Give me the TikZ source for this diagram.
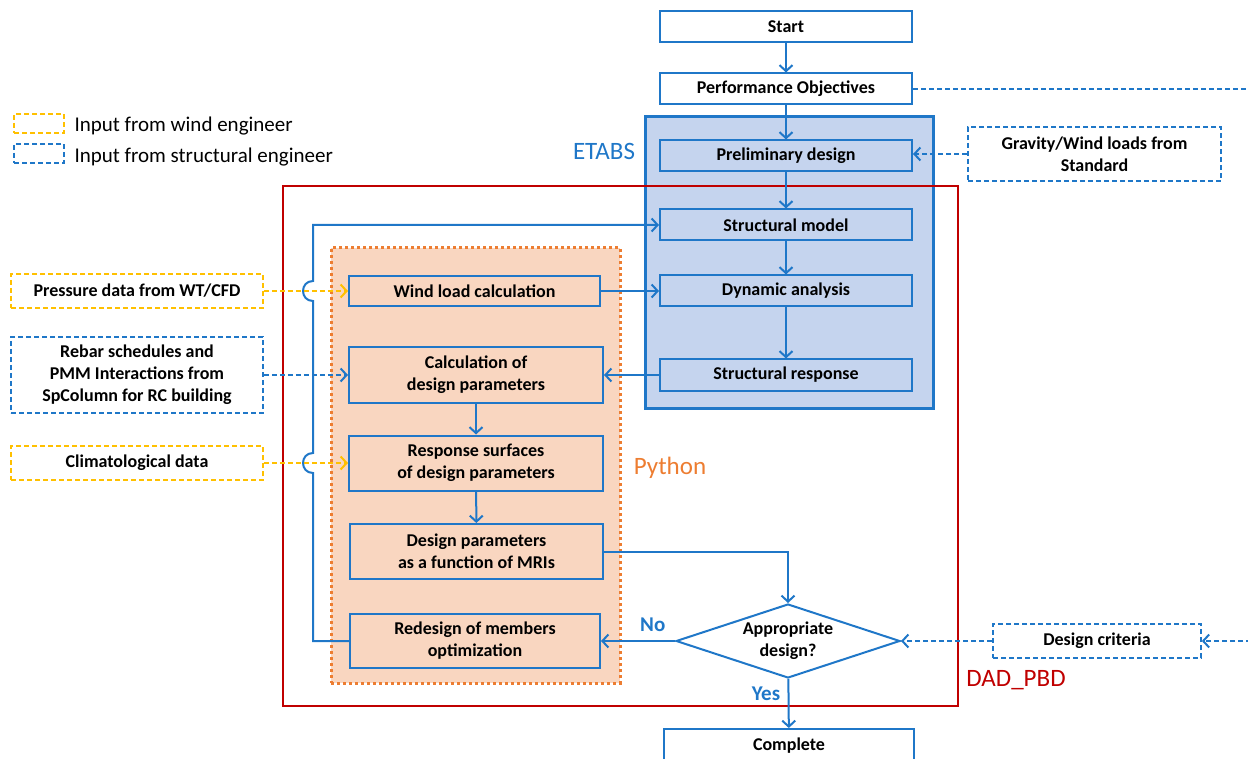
\documentclass[tikz,border=0pt]{standalone}
\usepackage{fontspec}
\setmainfont{Carlito}
\usetikzlibrary{arrows.meta,shapes.geometric}
\definecolor{flowblue}{HTML}{1F77C8}
\definecolor{etabsfill}{HTML}{C5D4EE}
\definecolor{pyfill}{HTML}{F9D6C0}
\definecolor{pyorange}{HTML}{ED7D31}
\definecolor{dadred}{HTML}{C00000}
\definecolor{windyellow}{HTML}{FFC000}

\begin{document}
\begin{tikzpicture}[x=1pt,y=-1pt,
  boxfont/.style={font=\fontsize{18}{22}\selectfont\bfseries},
  proc/.style={boxfont,draw=flowblue,line width=2pt,minimum width=252,minimum height=31,inner sep=0,align=center},
  inbox/.style={boxfont,draw=flowblue,line width=1.6pt,dash pattern=on 5pt off 3pt,minimum width=252,inner sep=0,align=center},
  windbox/.style={inbox,draw=windyellow},
  flow/.style={draw=flowblue,line width=2pt,-{Straight Barb[length=6pt,width=13pt,line width=2pt]}},
  structin/.style={flow,line width=1.6pt,dash pattern=on 5pt off 3pt},
  windin/.style={structin,draw=windyellow},
  tag/.style={font=\fontsize{25}{30}\selectfont},
  answer/.style={font=\fontsize{21}{24}\selectfont\bfseries,text=flowblue}]
\useasboundingbox (0,0) rectangle (1248,759);

% containers
\node[draw=flowblue,line width=3pt,fill=etabsfill,minimum width=288,minimum height=291] (etabs) at (789,262.5) {};
\node[draw=dadred,line width=2.5pt,minimum width=675,minimum height=520] (dad) at (620.5,446) {};
\node[draw=pyorange,line width=3pt,dash pattern=on 3pt off 3pt,fill=pyfill,minimum width=289,minimum height=435] (python) at (475.5,465.5) {};
\node[tag,text=flowblue] (etabslbl) at (604,151) {ETABS};
\node[tag,text=pyorange] (pylbl) at (670,468) {Python};
\node[tag,text=dadred] (dadlbl) at (1016,680) {DAD\_PBD};

% legend
\node[windbox,minimum width=50,minimum height=19] (legwind) at (39,123.5) {};
\node[structin,inbox,minimum width=50,minimum height=19] (legstruct) at (39,153.5) {};
\node[anchor=west,font=\fontsize{21}{25}\selectfont] (legwindtxt) at (71,126) {Input from wind engineer};
\node[anchor=west,font=\fontsize{21}{25}\selectfont] (legstructtxt) at (71,157) {Input from structural engineer};

% main chain
\node[proc,fill=white] (start) at (786,27) {Start};
\node[proc,fill=white] (perf) at (786,89) {Performance Objectives};
\node[proc] (prelim) at (786,156) {Preliminary design};
\node[proc] (smodel) at (786,225) {Structural model};
\node[proc] (dyn) at (786,291) {Dynamic analysis};
\node[proc] (sresp) at (786,375) {Structural response};

% python side
\node[proc,minimum width=251,minimum height=30] (wind) at (474.5,291) {Wind load calculation};
\node[proc,minimum width=254,minimum height=55] (calc) at (476,375) {Calculation of\\design parameters};
\node[proc,minimum width=254,minimum height=55] (resp) at (476,463) {Response surfaces\\of design parameters};
\node[proc,minimum width=253,minimum height=55] (mri) at (476.5,551.5) {Design parameters\\as a function of MRIs};
\node[proc,minimum width=250,minimum height=54] (redes) at (475,641) {Redesign of members\\optimization};

\node[proc,diamond,aspect=3,minimum width=224,minimum height=74,fill=white] (check) at (788,641) {Appropriate\\design?};
\node[proc,fill=white,minimum width=250,minimum height=34] (complete) at (789,746) {Complete};

% inputs
\node[windbox,minimum height=34] (pressure) at (137,291) {Pressure data from WT/CFD};
\node[inbox,minimum height=76] (rebar) at (137,375) {Rebar schedules and\\PMM Interactions from\\SpColumn for RC building};
\node[windbox,minimum height=34] (clim) at (137,463) {Climatological data};
\node[inbox,minimum width=253,minimum height=54] (gravity) at (1094.5,154) {Gravity/Wind loads from\\Standard};
\node[inbox,minimum width=208,minimum height=34] (crit) at (1097,641) {Design criteria};

\draw[flow] (start) -- (perf);
\draw[flow] (perf) -- (prelim);
\draw[flow] (prelim) -- (smodel);
\draw[flow] (smodel) -- (dyn);
\draw[flow] (dyn) -- (sresp);
\draw[flow] (wind) -- (dyn);
\draw[flow] (sresp) -- (calc);
\draw[flow] (calc) -- (resp);
\draw[flow] (resp) -- (mri);
\draw[flow] (mri.east) -| (check.north);
\draw[flow] (check) -- node[above=5pt,pos=0.3,answer] (nolbl) {No} (redes);
\draw[flow] (check) -- node[left=4pt,pos=0.3,answer] (yeslbl) {Yes} (complete);
% feedback loop, hops over the wind inputs
\draw[flow] (redes.west) -- (313,641) -- (313,473)
  .. controls (299.7,473) and (299.7,453) .. (313,453) -- (313,301)
  .. controls (299.7,301) and (299.7,281) .. (313,281) -- (313,225) -- (smodel.west);

\draw[windin] (pressure) -- (wind);
\draw[structin] (rebar) -- (calc);
\draw[windin] (clim) -- (resp);
\draw[structin] (gravity.west) -- (gravity.west -| prelim.east);
\draw[structin] (crit) -- (check);
\draw[structin] (perf.east) -- (1262,89) |- (crit.east);
\end{tikzpicture}
\end{document}
